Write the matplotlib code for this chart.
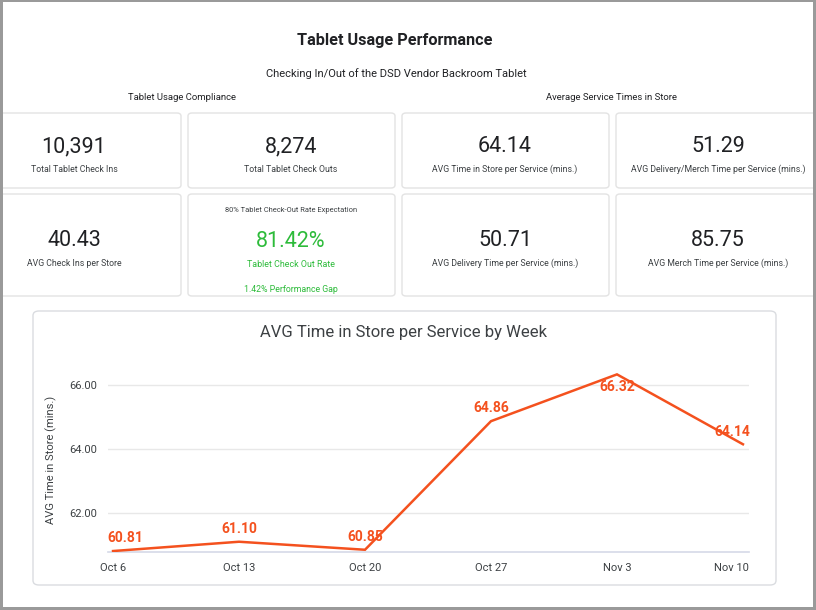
import matplotlib
matplotlib.use("Agg")
import matplotlib.pyplot as plt
from matplotlib.patches import FancyBboxPatch, Rectangle
from matplotlib.transforms import ScaledTranslation

plt.rcParams['font.family'] = ['Roboto', 'DejaVu Sans']

# ---------------- data ----------------
weeks = ["Oct 6", "Oct 13", "Oct 20", "Oct 27", "Nov 3", "Nov 10"]
avg_time = [60.81, 61.10, 60.85, 64.86, 66.32, 64.14]
y_ticks = [62.0, 64.0, 66.0]

kpi_values = ["10,391", "8,274", "64.14", "51.29",
              "40.43", "81.42%", "50.71", "85.75"]
kpi_labels = ["Total Tablet Check Ins", "Total Tablet Check Outs",
              "AVG Time in Store per Service (mins.)",
              "AVG Delivery/Merch Time per Service (mins.)",
              "AVG Check Ins per Store", "Tablet Check Out Rate",
              "AVG Delivery Time per Service (mins.)",
              "AVG Merch Time per Service (mins.)"]
rate_expectation = "80% Tablet Check-Out Rate Expectation"
perf_gap = "1.42% Performance Gap"

W, H = 816, 610
fig = plt.figure(figsize=(W / 100, H / 100), dpi=100)
fig.patch.set_facecolor("white")

def fx(x):
    return x / W

def fy(y):
    return 1 - y / H

def card(x0, y0, x1, y1, ec="#e3e3e3", r=4):
    p = FancyBboxPatch((fx(x0), fy(y1)), fx(x1 - x0), (y1 - y0) / H,
                       boxstyle=f"round,pad=0,rounding_size={r / W}",
                       transform=fig.transFigure, facecolor="white",
                       edgecolor=ec, linewidth=1.0, zorder=1)
    fig.patches.append(p)

def txt(x, y, s, size, color="#202124", weight="normal", **kw):
    fig.text(fx(x), fy(y), s, fontsize=size, color=color, weight=weight,
             ha="center", va="center", **kw)

# headings
txt(395, 41, "Tablet Usage Performance", 11.7, weight="bold")
txt(396, 74, "Checking In/Out of the DSD Vendor Backroom Tablet", 8)
txt(182, 97, "Tablet Usage Compliance", 6.8)
txt(612, 97, "Average Service Times in Store", 6.8)

# KPI cards
col_x = [(-6, 181), (188, 395), (402, 609), (616, 822)]
rows = [(113, 188), (194, 296)]
green = "#2dbb3a"
big = 15.5
small = 6.3
for i in range(8):
    r, c = divmod(i, 4)
    x0, x1 = col_x[c]
    y0, y1 = rows[r]
    card(x0, y0, x1, y1)
    cx = {0: 74, 1: 291, 2: 505, 3: 718}[c]
    if r == 0:
        txt(cx, 147, kpi_values[i], big)
        txt(cx, 169, kpi_labels[i], small, color="#3c4043")
    else:
        if i == 5:
            txt(cx, 211, rate_expectation, 5.4, color="#3c4043")
            txt(cx, 242, kpi_values[i], big, color=green)
            txt(cx, 265, kpi_labels[i], 6.4, color=green)
            txt(cx, 289, perf_gap, 6.3, color=green)
        else:
            txt(cx, 241, kpi_values[i], big)
            txt(cx, 263, kpi_labels[i], small, color="#3c4043")

# chart card
card(33, 311, 776, 585, ec="#dadce0", r=6)
txt(404, 333, "AVG Time in Store per Service by Week", 12, color="#3c4043")

# line chart axes
ax_l, ax_r, ax_t, ax_b = 108, 749, 367, 552
ax = fig.add_axes([fx(ax_l), fy(ax_b), fx(ax_r - ax_l), (ax_b - ax_t) / H])
ax.set_facecolor("none")
ax.set_zorder(3)
xs = list(range(len(weeks)))
orange = "#f4511e"
ax.plot(xs, avg_time, color=orange, linewidth=1.8, solid_joinstyle="miter", zorder=3)
ax.set_xlim(-0.04, len(weeks) - 1 + 0.048)
ax.set_ylim(60.78, 66.55)
ax.set_yticks(y_ticks)
ax.set_yticklabels([f"{v:.2f}" for v in y_ticks])
ax.set_xticks(xs)
ax.set_xticklabels(weeks)
ax.tick_params(length=0, labelsize=8, labelcolor="#3c4043")
ax.tick_params(axis="x", pad=8)
ax.tick_params(axis="y", pad=8)
last = ax.get_xticklabels()[-1]
last.set_horizontalalignment("right")
last.set_transform(last.get_transform() + ScaledTranslation(6 / 100, 0, fig.dpi_scale_trans))
ax.grid(axis="y", color="#e8e8e8", linewidth=1)
ax.set_axisbelow(True)
for s in ["top", "right", "left"]:
    ax.spines[s].set_visible(False)
ax.spines["bottom"].set_color("#d5d9e8")
ax.spines["bottom"].set_linewidth(1.2)
ax.set_ylabel("AVG Time in Store (mins.)", fontsize=8, color="#3c4043", labelpad=9)

# data labels (offsets in points)
offsets = {0: (8.5, 9.5), 4: (0, -9), 5: (-8, 9)}
for i, v in enumerate(avg_time):
    dx, dy = offsets.get(i, (0, 9.5))
    ax.annotate(f"{v:.2f}", (xs[i], v), xytext=(dx, dy), textcoords="offset points",
                ha="center", va="center", fontsize=10, fontweight="bold",
                color=orange, zorder=4, annotation_clip=False)

# outer gray frame
frame_c = "#9a9a9a"
for (x0, y0, w, h) in [(0, 0, 3, H), (813, 0, 3, H), (0, 0, W, 2), (0, 607, W, 3)]:
    fig.patches.append(Rectangle((fx(x0), fy(y0 + h)), w / W, h / H,
                                 transform=fig.transFigure, facecolor=frame_c,
                                 edgecolor="none", zorder=10))

fig.savefig("out.png", dpi=100)
